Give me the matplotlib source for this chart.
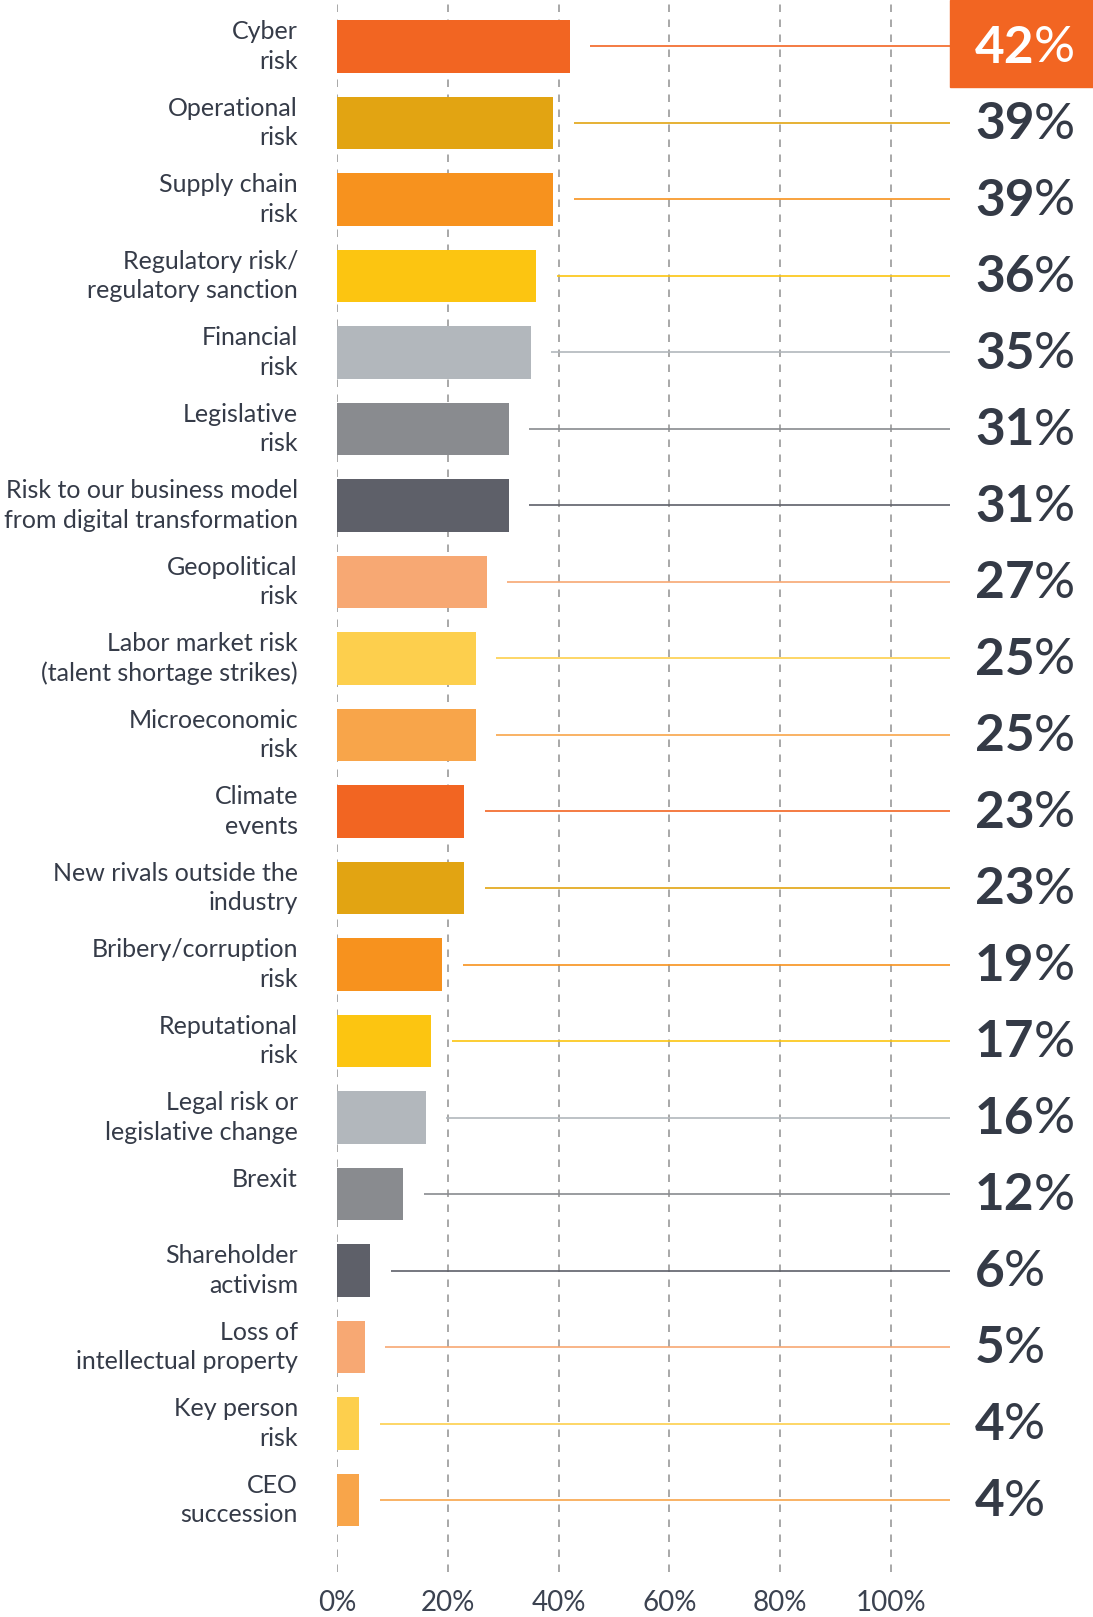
import matplotlib
matplotlib.use("Agg")
import matplotlib.pyplot as plt
from matplotlib.patches import Rectangle
import numpy as np

categories = [
    "Cyber\nrisk",
    "Operational\nrisk",
    "Supply chain\nrisk",
    "Regulatory risk/\nregulatory sanction",
    "Financial\nrisk",
    "Legislative\nrisk",
    "Risk to our business model\nfrom digital transformation",
    "Geopolitical\nrisk",
    "Labor market risk\n(talent shortage strikes)",
    "Microeconomic\nrisk",
    "Climate\nevents",
    "New rivals outside the\nindustry",
    "Bribery/corruption\nrisk",
    "Reputational\nrisk",
    "Legal risk or\nlegislative change",
    "Brexit\n",
    "Shareholder\nactivism",
    "Loss of\nintellectual property",
    "Key person\nrisk",
    "CEO\nsuccession",
]
values = [42, 39, 39, 36, 35, 31, 31, 27, 25, 25, 23, 23, 19, 17, 16, 12, 6, 5, 4, 4]
palette = ["#F26522", "#E2A412", "#F7921E", "#FCC511", "#B2B7BC",
           "#898B8F", "#5E6069", "#F7A873", "#FDCF4D", "#F8A54A"]
ticks = [0, 20, 40, 60, 80, 100]

text_col = "#353B48"
plt.rcParams['font.family'] = ['Lato', 'DejaVu Sans']

W, H = 1093, 1617
fig = plt.figure(figsize=(W / 100, H / 100), dpi=100)
fig.patch.set_facecolor("white")

# axes: x=0 at 337px, 1% = 5.54px; rows 76.5px apart, first centre at 46.5px
x0, ppu = 337, 5.54
ax_bottom_px = 1572
ax = fig.add_axes([x0 / W, (H - ax_bottom_px) / H, (W - x0) / W, ax_bottom_px / H])
ax.set_xlim(0, (W - x0) / ppu)
pitch, first = 76.5, 46.5
ax.set_ylim((ax_bottom_px - first) / pitch, -first / pitch)
ax.axis("off")

def px_x(px):
    return (px - x0) / ppu

def px_y(px):
    return (px - first) / pitch

# dashed gridlines
for t in ticks:
    ax.axvline(t, color="#9a9a9a", lw=1.2, ls=(0, (4.5, 4.5)), zorder=0)
    fig.text((x0 + t * ppu) / W, 1 - 1603 / H, f"{t}%", ha="center", va="center",
             fontsize=20, color="#3B4250")

y = np.arange(len(values))
colors = [palette[i % len(palette)] for i in range(len(values))]
ax.barh(y, values, height=0.69, color=colors, zorder=2)

line_end = px_x(950)
num_x = px_x(975)
for i, (v, c, lab) in enumerate(zip(values, colors, categories)):
    ax.plot([v + 3.7, line_end], [i, i], color=c, lw=1.2, zorder=1,
            solid_capstyle="butt")
    ax.text(px_x(298), i, lab, ha="right", va="center", fontsize=18,
            color=text_col, linespacing=1.32, clip_on=False)

# highlight box for the top value
ax.add_patch(Rectangle((line_end, px_y(0)), px_x(W) - line_end,
                       px_y(87) - px_y(0), color=palette[0], clip_on=False, zorder=3))

fig.canvas.draw()
renderer = fig.canvas.get_renderer()
for i, v in enumerate(values):
    col = "white" if i == 0 else "#343A46"
    t = ax.text(num_x, i + 0.02, f"{v}", ha="left", va="center", fontsize=37,
                fontweight="bold", color=col, zorder=4, clip_on=False)
    bb = t.get_window_extent(renderer)
    xd = ax.transData.inverted().transform((bb.x1 - 1, 0))[0]
    ax.text(xd, i + 0.02, "%", ha="left", va="center", fontsize=37,
            fontweight="normal", color=col, zorder=4, clip_on=False)

fig.savefig("out.png", dpi=100)
